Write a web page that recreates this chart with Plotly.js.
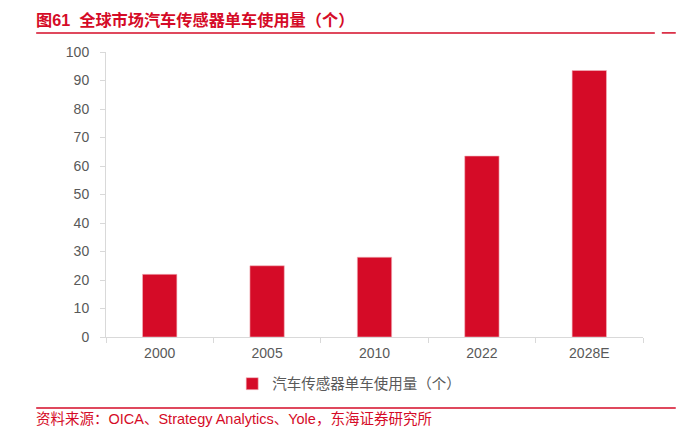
<!DOCTYPE html>
<html>
<head>
<meta charset="utf-8">
<script src="https://cdn.plot.ly/plotly-3.0.1.min.js"></script>
<style>html,body{margin:0;padding:0;background:#fff;}#chart{width:681px;height:428px;}</style>
</head>
<body>
<div id="chart"></div>
<script>
const categories = ['2000', '2005', '2010', '2022', '2028E'];
const sensorsPerCar = [22, 25, 28, 63.5, 93.5];
const seriesName = '汽车传感器单车使用量（个）';
const yTicks = [0, 10, 20, 30, 40, 50, 60, 70, 80, 90, 100];
const titleText = '<b>图61  全球市场汽车传感器单车使用量（个）</b>';
const sourceText = '资料来源：OICA、Strategy Analytics、Yole，东海证券研究所';

const red = '#d50b27';
const font = '"Liberation Sans", "Noto Sans CJK SC", Arial, sans-serif';
const numFont = '"Liberation Sans", Arial, sans-serif';

const trace = {
  type: 'bar',
  x: categories,
  y: sensorsPerCar,
  name: seriesName,
  marker: { color: red, line: { color: '#f2b8c0', width: 0.6 } },
  showlegend: true
};

const layout = {
  width: 681, height: 428,
  margin: { l: 106, r: 38, t: 52, b: 91 },
  paper_bgcolor: '#ffffff', plot_bgcolor: '#ffffff',
  font: { family: font, size: 14, color: '#595959' },
  bargap: 0.68,
  showlegend: true,
  legend: {
    orientation: 'h', x: 0.235, xanchor: 'left', y: -0.164, yanchor: 'middle',
    font: { family: font, size: 14.5, color: '#595959' }, itemwidth: 30
  },
  xaxis: {
    type: 'category',
    showline: true, linecolor: '#d9d9d9', linewidth: 1,
    ticks: 'outside', tickcolor: '#d9d9d9', ticklen: 5, tickson: 'boundaries',
    ticklabelstandoff: 3,
    tickfont: { family: numFont, size: 14, color: '#595959' },
    showgrid: false, zeroline: false
  },
  yaxis: {
    range: [0, 100], tickvals: yTicks,
    showline: true, linecolor: '#d9d9d9', linewidth: 1,
    ticks: 'outside', tickcolor: '#d9d9d9', ticklen: 5,
    ticklabelstandoff: 8,
    tickfont: { family: numFont, size: 14, color: '#595959' },
    showgrid: false, zeroline: false
  },
  shapes: [
    { type: 'line', xref: 'paper', yref: 'paper', x0: -0.130, x1: 1.022, y0: 1.067, y1: 1.067, line: { color: red, width: 1.5 } },
    { type: 'line', xref: 'paper', yref: 'paper', x0: 1.035, x1: 1.061, y0: 1.067, y1: 1.067, line: { color: red, width: 1.5 } },
    { type: 'line', xref: 'paper', yref: 'paper', x0: -0.130, x1: 1.061, y0: -0.249, y1: -0.249, line: { color: red, width: 1.5 } }
  ],
  annotations: [
    { text: titleText, xref: 'paper', yref: 'paper', x: -0.134, y: 1.075, xanchor: 'left', yanchor: 'bottom', showarrow: false,
      font: { family: font, size: 16.2, color: red } },
    { text: sourceText, xref: 'paper', yref: 'paper', x: -0.134, y: -0.288, xanchor: 'left', yanchor: 'middle', showarrow: false,
      font: { family: font, size: 14.5, color: red } }
  ]
};

Plotly.newPlot('chart', [trace], layout, { displayModeBar: false, staticPlot: true });
</script>
</body>
</html>
